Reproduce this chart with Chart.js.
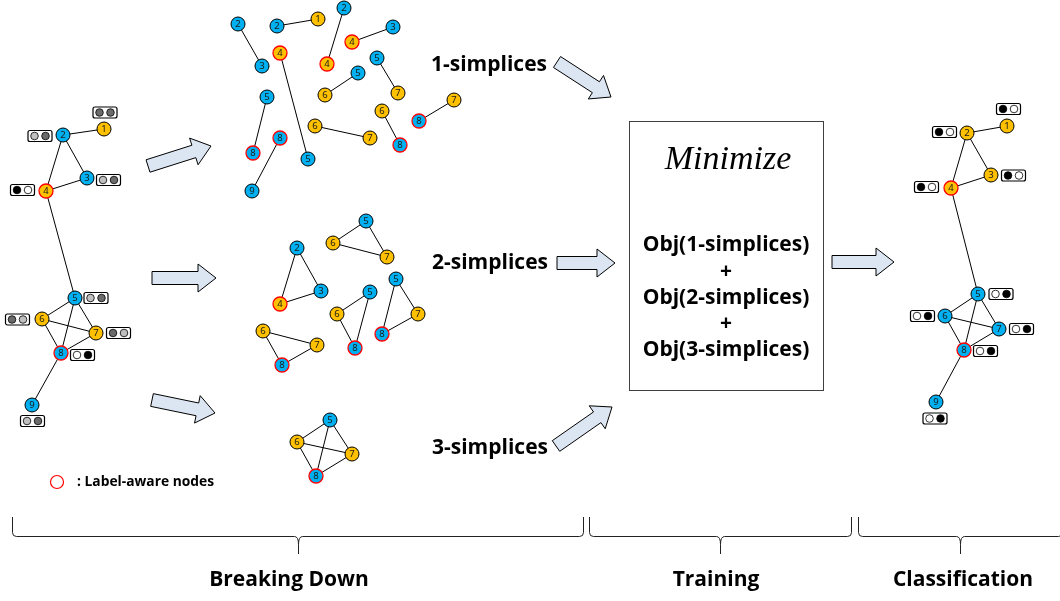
<!DOCTYPE html>
<html>
<head>
<meta charset="utf-8">
<script src="https://cdn.jsdelivr.net/npm/chart.js@4.4.1/dist/chart.umd.min.js"></script>
<style>
html, body { margin: 0; padding: 0; background: #fff; }
canvas { display: block; }
</style>
</head>
<body>
<canvas id="diagram" width="1060" height="601"></canvas>
<script>
// nodes: [x, y, number, colour (b = blue, y = yellow), label-aware]
const inputNodes = [
  [104, 129, '1', 'y', 0], [63, 135, '2', 'b', 0], [87, 178, '3', 'b', 0],
  [46, 191, '4', 'y', 1], [75, 298, '5', 'b', 0], [42, 319, '6', 'y', 0],
  [96, 333, '7', 'y', 0], [61, 353, '8', 'b', 1], [32, 405, '9', 'b', 0]
];
const outputNodes = [
  [1007, 126, '1', 'y', 0], [967, 133, '2', 'y', 0], [991, 175, '3', 'y', 0],
  [951, 188, '4', 'y', 1], [978, 294, '5', 'b', 0], [945, 316, '6', 'b', 0],
  [999, 329, '7', 'b', 0], [964, 350, '8', 'b', 1], [936, 402, '9', 'b', 0]
];
const graphEdges = [[0,1],[1,2],[1,3],[2,3],[3,4],[4,5],[4,6],[4,7],[5,6],[5,7],[6,7],[7,8]];

const oneSimplexNodes = [
  [238, 24, '2', 'b', 0], [262, 66, '3', 'b', 0],
  [277, 26, '2', 'b', 0], [318, 19, '1', 'y', 0],
  [344, 8, '2', 'b', 0], [327, 64, '4', 'y', 1],
  [352, 42, '4', 'y', 1], [393, 27, '3', 'b', 0],
  [280, 53, '4', 'y', 1], [308, 159, '5', 'b', 0],
  [358, 73, '5', 'b', 0], [325, 95, '6', 'y', 0],
  [377, 58, '5', 'b', 0], [398, 93, '7', 'y', 0],
  [267, 97, '5', 'b', 0], [253, 153, '8', 'b', 1],
  [315, 126, '6', 'y', 0], [370, 138, '7', 'y', 0],
  [382, 111, '6', 'y', 0], [400, 145, '8', 'b', 1],
  [454, 100, '7', 'y', 0], [419, 121, '8', 'b', 1],
  [280, 138, '8', 'b', 1], [252, 191, '9', 'b', 0]
];
const oneSimplexEdges = [[0,1],[2,3],[4,5],[6,7],[8,9],[10,11],[12,13],[14,15],[16,17],[18,19],[20,21],[22,23]];

const twoSimplexNodes = [
  [297, 248, '2', 'b', 0], [321, 291, '3', 'b', 0], [280, 304, '4', 'y', 1],
  [366, 221, '5', 'b', 0], [333, 243, '6', 'y', 0], [387, 257, '7', 'y', 0],
  [370, 292, '5', 'b', 0], [337, 314, '6', 'y', 0], [355, 348, '8', 'b', 1],
  [396, 279, '5', 'b', 0], [418, 314, '7', 'y', 0], [382, 334, '8', 'b', 1],
  [263, 331, '6', 'y', 0], [317, 345, '7', 'y', 0], [282, 365, '8', 'b', 1]
];
const twoSimplexEdges = [[0,1],[1,2],[0,2],[3,4],[4,5],[3,5],[6,7],[7,8],[6,8],[9,10],[10,11],[9,11],[12,13],[13,14],[12,14]];

const threeSimplexNodes = [
  [330, 420, '5', 'b', 0], [297, 442, '6', 'y', 0], [352, 454, '7', 'y', 0], [316, 476, '8', 'b', 1]
];
const threeSimplexEdges = [[0,1],[0,2],[0,3],[1,2],[1,3],[2,3]];

// class indicator tags next to nodes: [x, y, colours] k black, w white, d dark grey, l light grey
const inputTags = [
  [105, 112.5, 'dd'], [40, 136, 'ld'], [108.5, 180, 'ld'], [22.5, 190, 'kw'], [96, 298, 'ld'],
  [17.5, 319.5, 'dl'], [118.5, 333, 'dl'], [82.5, 355, 'wk'], [32.5, 421, 'ld']
];
const outputTags = [
  [1008.5, 109, 'kw'], [944.5, 132, 'kw'], [1013.5, 175.5, 'kw'], [926.5, 187, 'kw'], [1001, 294, 'wk'],
  [922.5, 316, 'wk'], [1021.5, 329, 'wk'], [985.5, 351, 'wk'], [935, 418.5, 'wk']
];

// block arrows: [tailX, tailY, tipX, tipY]
const arrows = [
  [148, 166, 211, 146], [152, 278, 216, 278], [152, 400, 215, 413],
  [557, 62, 611, 97], [557, 263, 615, 263], [556, 446, 612, 407], [832, 262, 894, 262]
];

const stepLabels = ['1-simplices', '2-simplices', '3-simplices'];
const stepLabelPos = [[489, 65], [490, 263], [490, 448]];
const objectiveLines = ['Obj(1-simplices)', '+', 'Obj(2-simplices)', '+', 'Obj(3-simplices)'];
const objectiveY = [245, 272, 298, 324, 350];

// braces: [left, right, middle]
const braces = [[12, 583, 298], [589, 851, 720], [858, 1062, 960]];
const stageLabels = ['Breaking Down', 'Training', 'Classification'];
const stageLabelX = [289, 716, 963];

const fillColours = { b: '#00b0f0', y: '#ffc000' };
const tagColours = { k: '#000000', w: '#ffffff', d: '#6b6b6b', l: '#c0c0c0' };

const groups = [inputNodes, outputNodes, oneSimplexNodes, twoSimplexNodes, threeSimplexNodes];
const groupEdges = [graphEdges, graphEdges, oneSimplexEdges, twoSimplexEdges, threeSimplexEdges];

let datasets = [];
groups.forEach(function(nodes, g) {
  groupEdges[g].forEach(function(e) {
    datasets.push({
      data: [{x: nodes[e[0]][0], y: nodes[e[0]][1]}, {x: nodes[e[1]][0], y: nodes[e[1]][1]}],
      showLine: true,
      borderColor: '#000',
      borderWidth: 1,
      pointRadius: 0,
      order: 2
    });
  });
});
let nodeSets = [];
groups.forEach(function(nodes) {
  nodeSets.push(datasets.length);
  datasets.push({
    data: nodes.map(n => ({x: n[0], y: n[1], label: n[2]})),
    pointRadius: 7,
    pointBackgroundColor: nodes.map(n => fillColours[n[3]]),
    pointBorderColor: nodes.map(n => n[4] ? '#ff0000' : '#000000'),
    pointBorderWidth: nodes.map(n => n[4] ? 1.3 : 1),
    order: 1
  });
});

function drawArrow(ctx, x0, y0, x1, y1) {
  const dx = x1 - x0, dy = y1 - y0;
  const len = Math.sqrt(dx * dx + dy * dy);
  const ux = dx / len, uy = dy / len;
  const nx = -uy, ny = ux;
  const w = 6.5, h = 14, L = 18;
  const bx = x1 - ux * L, by = y1 - uy * L;
  ctx.beginPath();
  ctx.moveTo(x0 + nx * w, y0 + ny * w);
  ctx.lineTo(bx + nx * w, by + ny * w);
  ctx.lineTo(bx + nx * h, by + ny * h);
  ctx.lineTo(x1, y1);
  ctx.lineTo(bx - nx * h, by - ny * h);
  ctx.lineTo(bx - nx * w, by - ny * w);
  ctx.lineTo(x0 - nx * w, y0 - ny * w);
  ctx.closePath();
  ctx.fillStyle = '#dce6f2';
  ctx.fill();
  ctx.strokeStyle = '#000';
  ctx.lineWidth = 1;
  ctx.stroke();
}

function drawBrace(ctx, x0, x1, m, top, mid, tip) {
  const r = 4;
  ctx.beginPath();
  ctx.moveTo(x0, top);
  ctx.lineTo(x0, mid - r);
  ctx.quadraticCurveTo(x0, mid, x0 + r, mid);
  ctx.lineTo(m - r, mid);
  ctx.quadraticCurveTo(m, mid, m, mid + r * 2);
  ctx.lineTo(m, tip);
  ctx.moveTo(m, mid + r * 2);
  ctx.quadraticCurveTo(m, mid, m + r, mid);
  ctx.lineTo(x1 - r, mid);
  ctx.quadraticCurveTo(x1, mid, x1, mid - r);
  ctx.lineTo(x1, top);
  ctx.strokeStyle = '#222';
  ctx.lineWidth = 1;
  ctx.stroke();
}

function drawTag(ctx, cx, cy, cols) {
  const w = 24, h = 11;
  ctx.beginPath();
  ctx.roundRect(cx - w / 2, cy - h / 2, w, h, 2);
  ctx.fillStyle = '#fff';
  ctx.fill();
  ctx.strokeStyle = '#000';
  ctx.lineWidth = 1.2;
  ctx.stroke();
  [-5.5, 5.5].forEach(function(off, i) {
    ctx.beginPath();
    ctx.arc(cx + off, cy, 3.8, 0, Math.PI * 2);
    ctx.fillStyle = tagColours[cols[i]];
    ctx.fill();
    ctx.strokeStyle = '#000';
    ctx.lineWidth = 0.8;
    ctx.stroke();
  });
}

const decorations = {
  id: 'decorations',
  beforeDatasetsDraw(chart) {
    const {ctx, scales: {x, y}} = chart;
    ctx.save();
    // minimize box
    ctx.strokeStyle = '#404040';
    ctx.lineWidth = 1;
    const bx0 = x.getPixelForValue(629), by0 = y.getPixelForValue(121);
    ctx.strokeRect(bx0 + 0.5, by0 + 0.5, x.getPixelForValue(823) - bx0, y.getPixelForValue(390) - by0);
    arrows.forEach(a => drawArrow(ctx, x.getPixelForValue(a[0]), y.getPixelForValue(a[1]), x.getPixelForValue(a[2]), y.getPixelForValue(a[3])));
    braces.forEach(b => drawBrace(ctx, x.getPixelForValue(b[0]) + 0.5, x.getPixelForValue(b[1]) + 0.5, x.getPixelForValue(b[2]) + 0.5,
      y.getPixelForValue(517), y.getPixelForValue(536.5), y.getPixelForValue(554)));

    ctx.fillStyle = '#000';
    ctx.textAlign = 'center';
    ctx.textBaseline = 'middle';
    ctx.font = 'bold 21px "Open Sans"';
    stepLabels.forEach((t, i) => ctx.fillText(t, x.getPixelForValue(stepLabelPos[i][0]), y.getPixelForValue(stepLabelPos[i][1])));
    objectiveLines.forEach((t, i) => ctx.fillText(t, x.getPixelForValue(726), y.getPixelForValue(objectiveY[i])));
    stageLabels.forEach((t, i) => ctx.fillText(t, x.getPixelForValue(stageLabelX[i]), y.getPixelForValue(580)));
    ctx.font = 'italic 34px "Liberation Serif"';
    ctx.fillText('Minimize', x.getPixelForValue(728), y.getPixelForValue(160));

    // legend
    ctx.beginPath();
    ctx.arc(x.getPixelForValue(57), y.getPixelForValue(482), 6.5, 0, Math.PI * 2);
    ctx.strokeStyle = '#ff0000';
    ctx.lineWidth = 1.2;
    ctx.stroke();
    ctx.textAlign = 'left';
    ctx.font = 'bold 13.8px "Open Sans"';
    ctx.fillText(': Label-aware nodes', x.getPixelForValue(77), y.getPixelForValue(482));
    ctx.restore();
  },
  afterDatasetsDraw(chart) {
    const {ctx, scales: {x, y}} = chart;
    ctx.save();
    ctx.fillStyle = '#1a1a1a';
    ctx.textAlign = 'center';
    ctx.textBaseline = 'middle';
    ctx.font = '9.5px "Noto Sans"';
    nodeSets.forEach(function(idx) {
      const meta = chart.getDatasetMeta(idx);
      meta.data.forEach(function(pt, j) {
        ctx.fillText(chart.data.datasets[idx].data[j].label, pt.x, pt.y + 0.5);
      });
    });
    inputTags.concat(outputTags).forEach(t => drawTag(ctx, x.getPixelForValue(t[0]), y.getPixelForValue(t[1]), t[2]));
    ctx.restore();
  }
};

const diagram = new Chart(document.getElementById('diagram').getContext('2d'), {
  type: 'scatter',
  data: { datasets: datasets },
  options: {
    responsive: false,
    animation: false,
    layout: { padding: 0, autoPadding: false },
    scales: {
      x: { type: 'linear', min: 0, max: 1060, display: false },
      y: { type: 'linear', min: 0, max: 601, reverse: true, display: false }
    },
    plugins: {
      legend: { display: false },
      tooltip: { enabled: false }
    }
  },
  plugins: [decorations]
});
</script>
</body>
</html>
